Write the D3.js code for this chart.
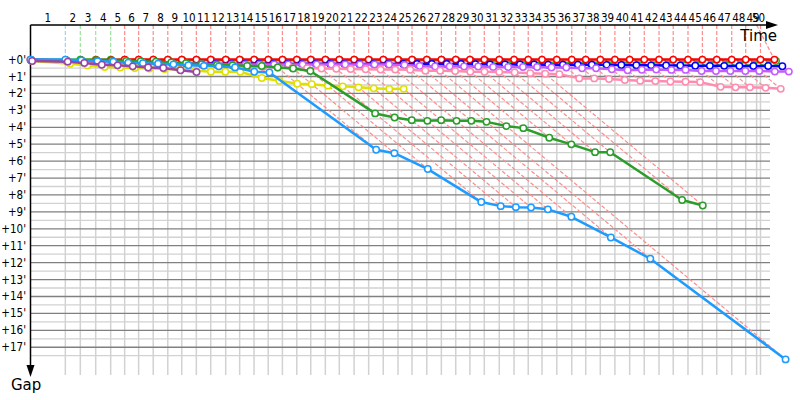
<!DOCTYPE html>
<html><head><meta charset="utf-8">
<script src="https://cdn.jsdelivr.net/npm/d3@7/dist/d3.min.js"></script>
<style>html,body{margin:0;padding:0;background:#fff;}svg{display:block;}</style>
</head><body>
<svg id="chart" width="800" height="400"></svg>
<script>
// Leader's cumulative time (minutes) at the end of laps 1..50
const lapTimes = [1.72, 2.46, 3.22, 3.96, 4.65, 5.34, 6.06, 6.78, 7.47, 8.19,
  8.90, 9.64, 10.33, 11.04, 11.74, 12.44, 13.15, 13.84, 14.56, 15.25,
  15.98, 16.70, 17.42, 18.15, 18.84, 19.57, 20.29, 21.00, 21.70, 22.41,
  23.15, 23.88, 24.58, 25.26, 25.99, 26.73, 27.42, 28.14, 28.86, 29.59,
  30.31, 31.04, 31.74, 32.47, 33.18, 33.89, 34.63, 35.32, 36.05, 36.74];
// time where the last lap mark is drawn on the time axis
const lastLapTick = 35.86;
const lapLabels = d3.range(1, 51).map(String);
const gapTicks = d3.range(0, 18);

// gaps to the leader (minutes), index = lap 0..n
const gapRed = [0, 0.05, 0.04, 0.03, 0.03, 0, 0, 0, 0, 0, 0, 0, 0, 0, 0, 0, 0, 0, 0, 0, 0, 0, 0, 0, 0, 0,
  0, 0, 0, 0, 0, 0, 0, 0, 0, 0, 0, 0, 0, 0, 0, 0, 0, 0, 0, 0, 0, 0, 0, 0, 0];
const gapGreen = [0.02, 0.03, 0, 0, 0, 0.02, 0.03, 0.04, 0.04, 0.04, 0.04, 0.04, 0.04, 0.04, 0.04, 0.04,
  0.04, 0.04, 0.04, 0.04, 0.04, 0.04, 0.04, 0.04, 0.04, 0.04, 0.04, 0.04, 0.05, 0.06, 0.08, 0.12, 0.15, 0.17,
  0.18, 0.18, 0.18, 0.18, 0.17, 0.17, 0.17, 0.17, 0.17, 0.16, 0.16, 0.16, 0.16, 0.16, 0.15, 0.15, 0.08];
const gapBlue = [0.03, 0.06, 0.09, 0.12, 0.15, 0.18, 0.20, 0.21, 0.23, 0.24, 0.25,
  0.25, 0.26, 0.25, 0.24, 0.25, 0.26, 0.25, 0.25, 0.24, 0.25, 0.26, 0.25, 0.25, 0.26, 0.25, 0.25, 0.26, 0.26,
  0.27, 0.28, 0.28, 0.29, 0.29, 0.30, 0.30, 0.30, 0.30, 0.31, 0.32, 0.33, 0.34, 0.35, 0.35, 0.36, 0.37, 0.37,
  0.38, 0.38, 0.38, 0.39];
const gapViolet = [0.03, 0.05, 0.08, 0.11, 0.14, 0.16, 0.18, 0.20, 0.22, 0.24, 0.26, 0.28,
  0.29, 0.29, 0.29, 0.29, 0.29, 0.29, 0.29, 0.29, 0.29, 0.29, 0.29, 0.29,
  0.32, 0.38, 0.41, 0.41, 0.41, 0.41, 0.44, 0.44, 0.44, 0.44, 0.47, 0.47, 0.51, 0.51, 0.57, 0.63,
  0.60, 0.59, 0.61, 0.61, 0.67, 0.67, 0.67, 0.67, 0.67, 0.71, 0.71];
const gapPink = [0.03, 0.06, 0.09, 0.12, 0.15, 0.18, 0.21, 0.24, 0.27, 0.30,
  0.33, 0.35, 0.38, 0.41, 0.44, 0.47, 0.49, 0.51, 0.53, 0.54,
  0.56, 0.57, 0.59, 0.59, 0.60, 0.66, 0.66, 0.68, 0.72, 0.72,
  0.74, 0.76, 0.80, 0.84, 0.86, 1.11, 1.11, 1.15, 1.21, 1.25,
  1.27, 1.29, 1.31, 1.33, 1.61, 1.64, 1.64, 1.67, 1.73];
const gapDarkGreen = [0.02, 0.03, 0.03, 0.05, 0.06, 0.08, 0.10, 0.13, 0.17, 0.21,
  0.27, 0.31, 0.34, 0.37, 0.38, 0.47, 0.53, 0.67,
  3.18, 3.42, 3.58, 3.62, 3.58, 3.62, 3.62, 3.68, 3.93, 4.05, 4.62, 5.01, 5.47, 5.48, 8.30, 8.62];
const gapSkyBlue = [0, 0, 0.05, 0.09, 0.13, 0.18, 0.21, 0.24, 0.28, 0.33,
  0.37, 0.40, 0.46, 0.72, 0.76,
  5.33, 5.53, 6.47, 8.42, 8.66, 8.72, 8.74, 8.85, 9.29, 10.51, 11.77, 17.72];
const gapYellow = [0.09, 0.24, 0.35, 0.44, 0.47, 0.50, 0.53, 0.56, 0.59, 0.65, 0.72, 0.72, 0.72,
  1.09, 1.25, 1.43, 1.45, 1.54, 1.58, 1.64, 1.70, 1.74, 1.73];
const gapPurple = [0.08, 0.12, 0.20, 0.30, 0.34, 0.40, 0.47, 0.50, 0.63, 0.73];

// drawing order: first is drawn below
const series = [
  {name: "green", color: "#22c022", gaps: gapGreen},
  {name: "red", color: "#ff0000", gaps: gapRed},
  {name: "blue", color: "#0000ff", gaps: gapBlue},
  {name: "violet", color: "#c45cff", gaps: gapViolet},
  {name: "pink", color: "#ff8cb0", gaps: gapPink},
  {name: "yellow", color: "#e0e000", gaps: gapYellow},
  {name: "darkgreen", color: "#2a9d2a", gaps: gapDarkGreen},
  {name: "skyblue", color: "#1e9bff", gaps: gapSkyBlue},
  {name: "purple", color: "#9944aa", gaps: gapPurple}
];

const svg = d3.select("#chart");
const x = d3.scaleLinear().domain([0, 36.52]).range([30.5, 770]);
const y = d3.scaleLinear().domain([0, 17.5]).range([59.6, 355.7]);
const font = "'DejaVu Sans Condensed','DejaVu Sans',sans-serif";

const startTimes = [0].concat(lapTimes);
const tickTimes = lapTimes.slice(0, 49).concat([lastLapTick]);
const gridBottom = 375;

// grid
const grid = svg.append("g");
grid.selectAll(".hl").data(gapTicks).join("line")
  .attr("x1", x(0)).attr("x2", x.range()[1])
  .attr("y1", d => y(d + 0.5)).attr("y2", d => y(d + 0.5))
  .attr("stroke", "#d2d2d2").attr("stroke-width", 1.3);
grid.selectAll(".vl").data(tickTimes).join("line")
  .attr("x1", d => x(d)).attr("x2", d => x(d))
  .attr("y1", y(0)).attr("y2", gridBottom)
  .attr("stroke", "#d2d2d2").attr("stroke-width", 1.5);
grid.selectAll(".hd").data(gapTicks).join("line")
  .attr("x1", x(0)).attr("x2", x.range()[1])
  .attr("y1", d => y(d)).attr("y2", d => y(d))
  .attr("stroke", "#808080").attr("stroke-width", 1.3);

// lap markers: leader and last car per lap
const laps = d3.range(1, 51).map(k => {
  const present = series.filter(s => s.gaps.length > k);
  const leader = present.reduce((a, b) => (b.gaps[k] < a.gaps[k] ? b : a));
  const last = d3.max(present, s => s.gaps[k]);
  return {k, t: lapTimes[k - 1], tick: tickTimes[k - 1], leader, last};
});
const light = c => d3.interpolateRgb(c, "#ffffff")(0.55);
const lapG = svg.append("g").attr("fill", "none").attr("stroke-width", 1.2).attr("stroke-dasharray", "4,2");
lapG.selectAll(".v").data(laps).join("line")
  .attr("x1", d => x(d.tick)).attr("y1", 25)
  .attr("x2", d => x(d.t)).attr("y2", y(0))
  .attr("stroke", d => light(d.leader.color));
lapG.selectAll(".d").data(laps).join("line")
  .attr("x1", d => x(d.t)).attr("y1", y(0))
  .attr("x2", d => x(d.t + d.last)).attr("y2", d => y(d.last))
  .attr("stroke", d => light(d.leader.color));

// axes
const ax = svg.append("g");
ax.append("line").attr("x1", 30.5).attr("y1", 25).attr("x2", 768).attr("y2", 25)
  .attr("stroke", "#000").attr("stroke-width", 1.5);
ax.append("path").attr("d", "M766,21L778,25L766,29Z").attr("fill", "#000");
ax.append("line").attr("x1", 30.5).attr("y1", 25).attr("x2", 30.5).attr("y2", 367)
  .attr("stroke", "#000").attr("stroke-width", 1.5);
ax.append("path").attr("d", "M26.5,365L30.5,377L34.5,365Z").attr("fill", "#000");
ax.append("text").attr("x", 777).attr("y", 41).attr("text-anchor", "end")
  .attr("font-family", "'DejaVu Sans',sans-serif").attr("font-size", 15).text("Time");
ax.append("text").attr("x", 11).attr("y", 390)
  .attr("font-family", "'DejaVu Sans',sans-serif").attr("font-size", 15).text("Gap");

// lap labels (centered within each lap)
ax.selectAll(".lap").data(lapLabels).join("text")
  .attr("x", (d, i) => x(((i === 0 ? 0 : tickTimes[i - 1]) + tickTimes[i]) / 2))
  .attr("y", 21.5).attr("text-anchor", "middle")
  .attr("font-family", font).attr("font-size", 11.5).text(d => d);
// gap labels
ax.selectAll(".gap").data(gapTicks).join("text")
  .attr("x", 26).attr("y", d => y(d) + 4).attr("text-anchor", "end")
  .attr("font-family", font).attr("font-size", 11.5).text(d => "+" + d + "'");

// series
const line = d3.line().x(d => x(d.t)).y(d => y(d.g));
series.forEach(s => {
  const pts = s.gaps.map((g, k) => ({t: startTimes[k] + g, g}));
  const g = svg.append("g");
  g.append("path").datum(pts).attr("d", line).attr("fill", "none")
    .attr("stroke", s.color).attr("stroke-width", 2.5).attr("stroke-linejoin", "round");
  g.selectAll("circle").data(pts).join("circle")
    .attr("cx", d => x(d.t)).attr("cy", d => y(d.g)).attr("r", 3.2)
    .attr("fill", "#fff").attr("stroke", s.color).attr("stroke-width", 1.5);
});
</script>
</body></html>
